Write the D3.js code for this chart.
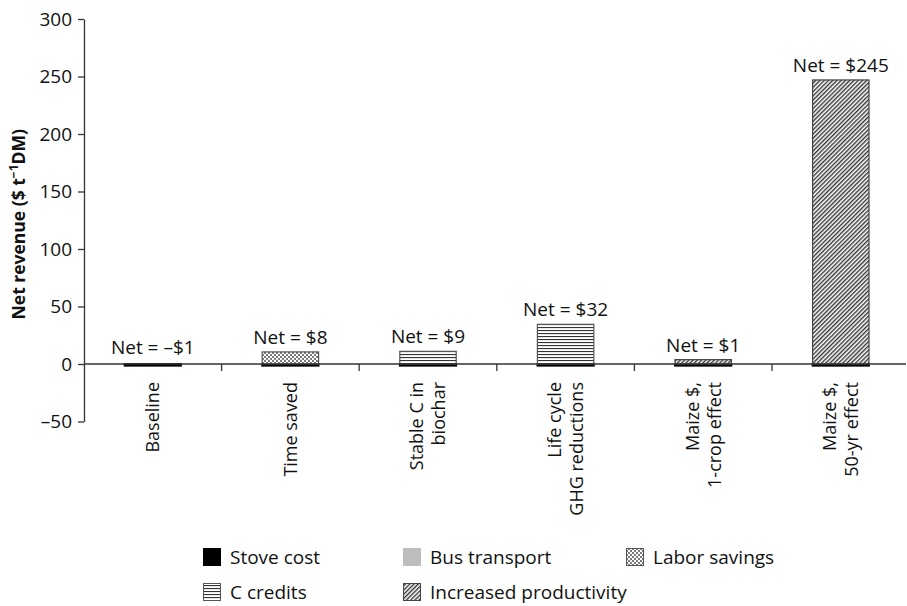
<!DOCTYPE html>
<html><head><meta charset="utf-8">
<script src="https://cdn.jsdelivr.net/npm/d3@7"></script>
<style>
html,body{margin:0;padding:0;background:#fff;}
svg{display:block;font-family:"Open Sans",sans-serif;}
</style></head>
<body><svg id="chart" width="907" height="606"></svg>
<script>
// ---- data ----
const categories = ["Baseline", "Time saved", "Stable C in\nbiochar", "Life cycle\nGHG reductions", "Maize $,\n1-crop effect", "Maize $,\n50-yr effect"];
const netLabels = ["Net = \u2013$1", "Net = $8", "Net = $9", "Net = $32", "Net = $1", "Net = $245"];
const stoveCost = [-1.5, -1.5, -1.5, -1.5, -1.5, -1.5];
const busTransport = [0, 0, 0, 0, 0, 0];
const laborSavings = [0, 10.5, 0, 0, 0, 0];
const cCredits = [0, 0, 11, 34.5, 0, 0];
const increasedProductivity = [0, 0, 0, 0, 3.8, 247];
const yTicks = [-50, 0, 50, 100, 150, 200, 250, 300];
const seriesNames = ["Stove cost", "Bus transport", "Labor savings", "C credits", "Increased productivity"];

// ---- setup ----
const svg = d3.select("#chart");
const defs = svg.append("defs");

// patterns
const pLabor = defs.append("pattern").attr("id", "pLabor").attr("patternUnits", "userSpaceOnUse").attr("width", 4).attr("height", 4);
pLabor.append("rect").attr("width", 4).attr("height", 4).attr("fill", "#fff");
pLabor.append("rect").attr("width", 2).attr("height", 2).attr("fill", "#7a7a7a");
pLabor.append("rect").attr("x", 2).attr("y", 2).attr("width", 2).attr("height", 2).attr("fill", "#7a7a7a");

const pC = defs.append("pattern").attr("id", "pC").attr("patternUnits", "userSpaceOnUse").attr("width", 6).attr("height", 3);
pC.append("rect").attr("width", 6).attr("height", 3).attr("fill", "#fff");
pC.append("rect").attr("y", 0).attr("width", 6).attr("height", 1.1).attr("fill", "#333");

const pProd = defs.append("pattern").attr("id", "pProd").attr("patternUnits", "userSpaceOnUse").attr("width", 3).attr("height", 3).attr("patternTransform", "rotate(45)");
pProd.append("rect").attr("width", 3).attr("height", 3).attr("fill", "#fff");
pProd.append("rect").attr("width", 1.4).attr("height", 3).attr("fill", "#333");

const fills = {
  "Stove cost": "#000",
  "Bus transport": "#bcbec0",
  "Labor savings": "url(#pLabor)",
  "C credits": "url(#pC)",
  "Increased productivity": "url(#pProd)"
};
const strokes = {
  "Stove cost": "#000",
  "Bus transport": "#bcbec0",
  "Labor savings": "#555",
  "C credits": "#555",
  "Increased productivity": "#444"
};

const x = d3.scaleBand().domain(categories).range([84, 84 + 6 * 137.6]).padding(0);
const y = d3.scaleLinear().domain([-50, 300]).range([421.5, 19]);
const barW = x.bandwidth() * 0.41;

// ---- y axis ----
const yAxis = svg.append("g").attr("transform", "translate(84,0)")
  .call(d3.axisLeft(y).tickValues(yTicks).tickSize(6).tickSizeOuter(0).tickPadding(6)
    .tickFormat(d => d < 0 ? "\u2013" + Math.abs(d) : String(d)));
yAxis.selectAll("path,line").attr("stroke", "#333").attr("stroke-width", 1.3);
yAxis.selectAll("text").attr("font-size", 19).attr("fill", "#111").attr("font-family", "Open Sans");

// y title
const yt = svg.append("text")
  .attr("transform", `translate(25,${(y(300) + y(-50)) / 2 + 4}) rotate(-90)`)
  .attr("text-anchor", "middle").attr("font-weight", "bold").attr("font-size", 17.5).attr("fill", "#111");
yt.append("tspan").text("Net revenue ($ t");
yt.append("tspan").attr("dy", -7).attr("font-size", 12).text("\u22121");
yt.append("tspan").attr("dy", 7).text("DM)");

// ---- bars ----
const rows = categories.map((c, i) => ({
  cat: c,
  i,
  vals: {
    "Stove cost": stoveCost[i],
    "Bus transport": busTransport[i],
    "Labor savings": laborSavings[i],
    "C credits": cCredits[i],
    "Increased productivity": increasedProductivity[i]
  }
}));

const barsG = svg.append("g");
rows.forEach(r => {
  let pos = 0, neg = 0;
  const bx = x(r.cat) + (x.bandwidth() - barW) / 2;
  seriesNames.forEach(s => {
    const v = r.vals[s];
    if (!v) return;
    let y0, y1;
    if (v >= 0) { y0 = pos; y1 = pos + v; pos = y1; }
    else { y0 = neg + v; y1 = neg; neg = y0; }
    barsG.append("rect")
      .attr("x", bx).attr("width", barW)
      .attr("y", y(y1)).attr("height", Math.max(0, y(y0) - y(y1)))
      .attr("fill", fills[s]).attr("stroke", strokes[s]).attr("stroke-width", s === "Stove cost" ? 1.8 : 1.2);
  });
  r.top = pos;
});

// zero line
svg.append("line").attr("x1", 84).attr("x2", 906).attr("y1", y(0)).attr("y2", y(0))
  .attr("stroke", "#333").attr("stroke-width", 1.3);

// category ticks
categories.slice(1).forEach(c => {
  svg.append("line").attr("x1", x(c)).attr("x2", x(c)).attr("y1", y(0)).attr("y2", y(0) + 7)
    .attr("stroke", "#333").attr("stroke-width", 1.3);
});

// net labels
rows.forEach(r => {
  svg.append("text").attr("x", x(r.cat) + x.bandwidth() / 2).attr("y", y(Math.max(r.top, 1.5)) - 8)
    .attr("text-anchor", "middle").attr("font-size", 19).attr("fill", "#111").text(netLabels[r.i]);
});

// category labels (rotated)
categories.forEach(c => {
  const lines = c.split("\n");
  const cx = x(c) + x.bandwidth() / 2;
  const t = svg.append("text").attr("transform", `translate(${cx},382) rotate(-90)`)
    .attr("text-anchor", "end").attr("font-size", 18).attr("fill", "#111");
  lines.forEach((ln, k) => {
    t.append("tspan").attr("x", 0).attr("y", (k - (lines.length - 1) / 2) * 22).attr("dy", "0.36em").text(ln);
  });
});

// ---- legend ----
const legendPos = [[203, 548], [403, 548], [626, 548], [203, 583], [403, 583]];
seriesNames.forEach((s, i) => {
  const [lx, ly] = legendPos[i];
  svg.append("rect").attr("x", lx + 0.5).attr("y", ly + 0.5).attr("width", 17).attr("height", 17)
    .attr("fill", fills[s]).attr("stroke", strokes[s]).attr("stroke-width", 1);
  svg.append("text").attr("x", lx + 27).attr("y", ly + 9).attr("dy", "0.35em")
    .attr("font-size", 19).attr("fill", "#111").text(s);
});
</script></body></html>
